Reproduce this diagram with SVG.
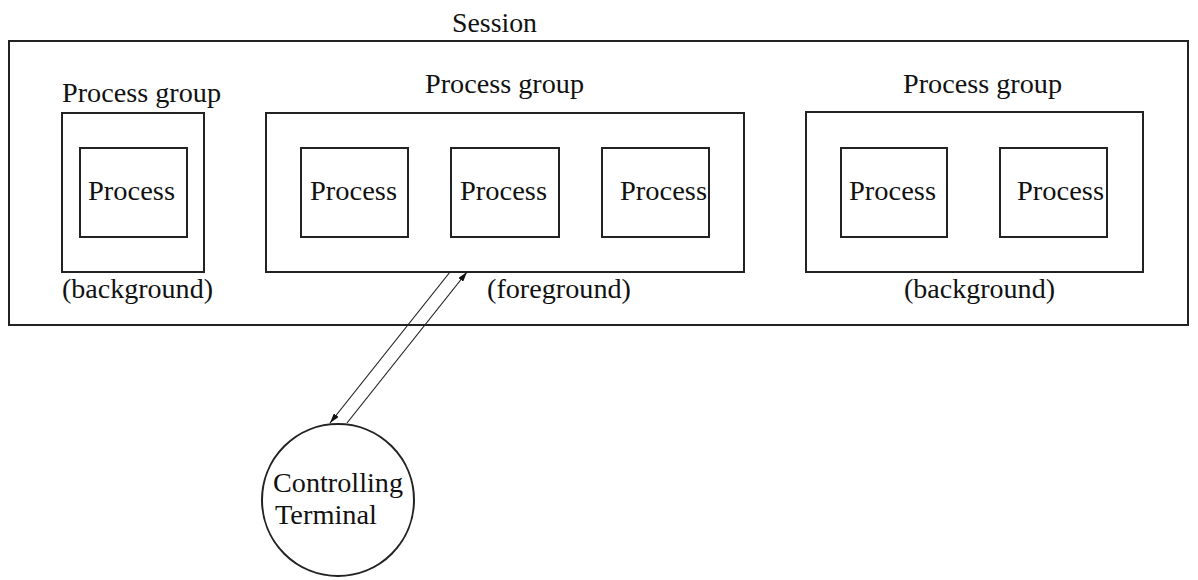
<svg xmlns="http://www.w3.org/2000/svg" width="1198" height="580" viewBox="0 0 1198 580">
<defs>
<style>
.box{fill:none;stroke:#222;stroke-width:2}
.t{font-family:"Liberation Serif","Times New Roman",serif;font-size:27px;fill:#111}
.c{fill:none;stroke:#222;stroke-width:1.2}
</style>
<marker id="ah" viewBox="0 0 10 6" refX="10" refY="3" markerWidth="10" markerHeight="6" markerUnits="userSpaceOnUse" orient="auto">
<path d="M0,0 L10,3 L0,6 Z" fill="#111"/>
</marker>
</defs>
<rect width="1198" height="580" fill="#fff"/>
<g id="session">
<rect class="box" x="9" y="41" width="1179" height="284"/>
<text class="t" x="452" y="32" textLength="85" lengthAdjust="spacingAndGlyphs">Session</text>
</g>
<g id="group-left">
<rect class="box" x="62" y="113" width="142" height="159"/>
<text class="t" x="62" y="102" textLength="159" lengthAdjust="spacingAndGlyphs">Process group</text>
<text class="t" x="62" y="298" textLength="151" lengthAdjust="spacingAndGlyphs">(background)</text>
</g>
<g id="process-l1">
<rect class="box" x="80" y="148" width="107" height="89"/>
<text class="t" x="88" y="200" textLength="87" lengthAdjust="spacingAndGlyphs">Process</text>
</g>
<g id="group-middle">
<rect class="box" x="266" y="113" width="478" height="159"/>
<text class="t" x="425" y="93" textLength="159" lengthAdjust="spacingAndGlyphs">Process group</text>
<text class="t" x="487" y="298" textLength="144" lengthAdjust="spacingAndGlyphs">(foreground)</text>
</g>
<g id="process-m1">
<rect class="box" x="301" y="148" width="107" height="89"/>
<text class="t" x="310" y="200" textLength="87" lengthAdjust="spacingAndGlyphs">Process</text>
</g>
<g id="process-m2">
<rect class="box" x="451" y="148" width="108" height="89"/>
<text class="t" x="460" y="200" textLength="87" lengthAdjust="spacingAndGlyphs">Process</text>
</g>
<g id="process-m3">
<rect class="box" x="602" y="148" width="107" height="89"/>
<text class="t" x="620" y="200" textLength="87" lengthAdjust="spacingAndGlyphs">Process</text>
</g>
<g id="group-right">
<rect class="box" x="806" y="112" width="337" height="160"/>
<text class="t" x="903" y="93" textLength="159" lengthAdjust="spacingAndGlyphs">Process group</text>
<text class="t" x="904" y="298" textLength="151" lengthAdjust="spacingAndGlyphs">(background)</text>
</g>
<g id="process-r1">
<rect class="box" x="841" y="148" width="106" height="89"/>
<text class="t" x="849" y="200" textLength="87" lengthAdjust="spacingAndGlyphs">Process</text>
</g>
<g id="process-r2">
<rect class="box" x="1000" y="148" width="107" height="89"/>
<text class="t" x="1017" y="200" textLength="87" lengthAdjust="spacingAndGlyphs">Process</text>
</g>
<g id="terminal">
<circle class="box" cx="338" cy="500" r="76" stroke-width="1.5"/>
<text class="t" x="273" y="492" textLength="130" lengthAdjust="spacingAndGlyphs">Controlling</text>
<text class="t" x="275" y="524" textLength="102" lengthAdjust="spacingAndGlyphs">Terminal</text>
</g>
<g id="connectors">
<line class="c" x1="450" y1="272" x2="330" y2="423" marker-end="url(#ah)"/>
<line class="c" x1="347" y1="423" x2="467" y2="272" marker-end="url(#ah)"/>
</g>
</svg>
